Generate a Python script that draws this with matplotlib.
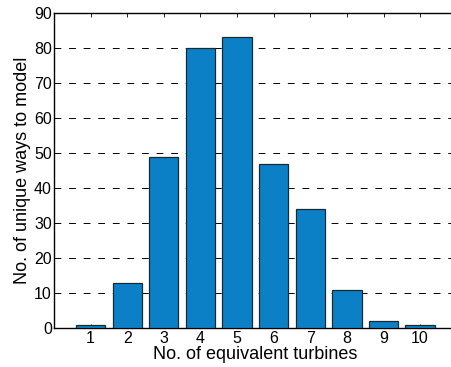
import numpy as np
import matplotlib
matplotlib.use("Agg")
from matplotlib import pyplot as plt

plt.rcParams['font.family'] = ['Liberation Sans', 'DejaVu Sans']

# number of equivalent turbines and the count of unique ways to model each
turbines = [1, 2, 3, 4, 5, 6, 7, 8, 9, 10]
ways = [1, 13, 49, 80, 83, 47, 34, 11, 2, 1]

fig = plt.figure(figsize=(4.51, 3.67), dpi=100)
ax = fig.add_axes([0.1197, 0.105, 0.893, 0.86])

ax.bar(turbines, ways, width=0.8, color='#0b80c6', edgecolor='#1a2a33',
       linewidth=0.9, zorder=3)

ax.set_xlim(0, 11)
ax.set_ylim(0, 90)
ax.set_xticks(turbines)
ax.set_yticks(np.arange(0, 91, 10))
ax.tick_params(direction='in', length=3, labelsize=11.5, top=True, right=True,
               width=0.6, pad=1.5)
ax.yaxis.grid(True, linestyle=(0, (7, 8)), color='black', linewidth=0.7, zorder=0)
ax.set_axisbelow(True)

for s in ax.spines.values():
    s.set_linewidth(1.0)

ax.set_xlabel('No. of equivalent turbines', fontsize=13, labelpad=0)
ax.set_ylabel('No. of unique ways to model', fontsize=13, labelpad=2)

fig.savefig('out.png', dpi=100)
